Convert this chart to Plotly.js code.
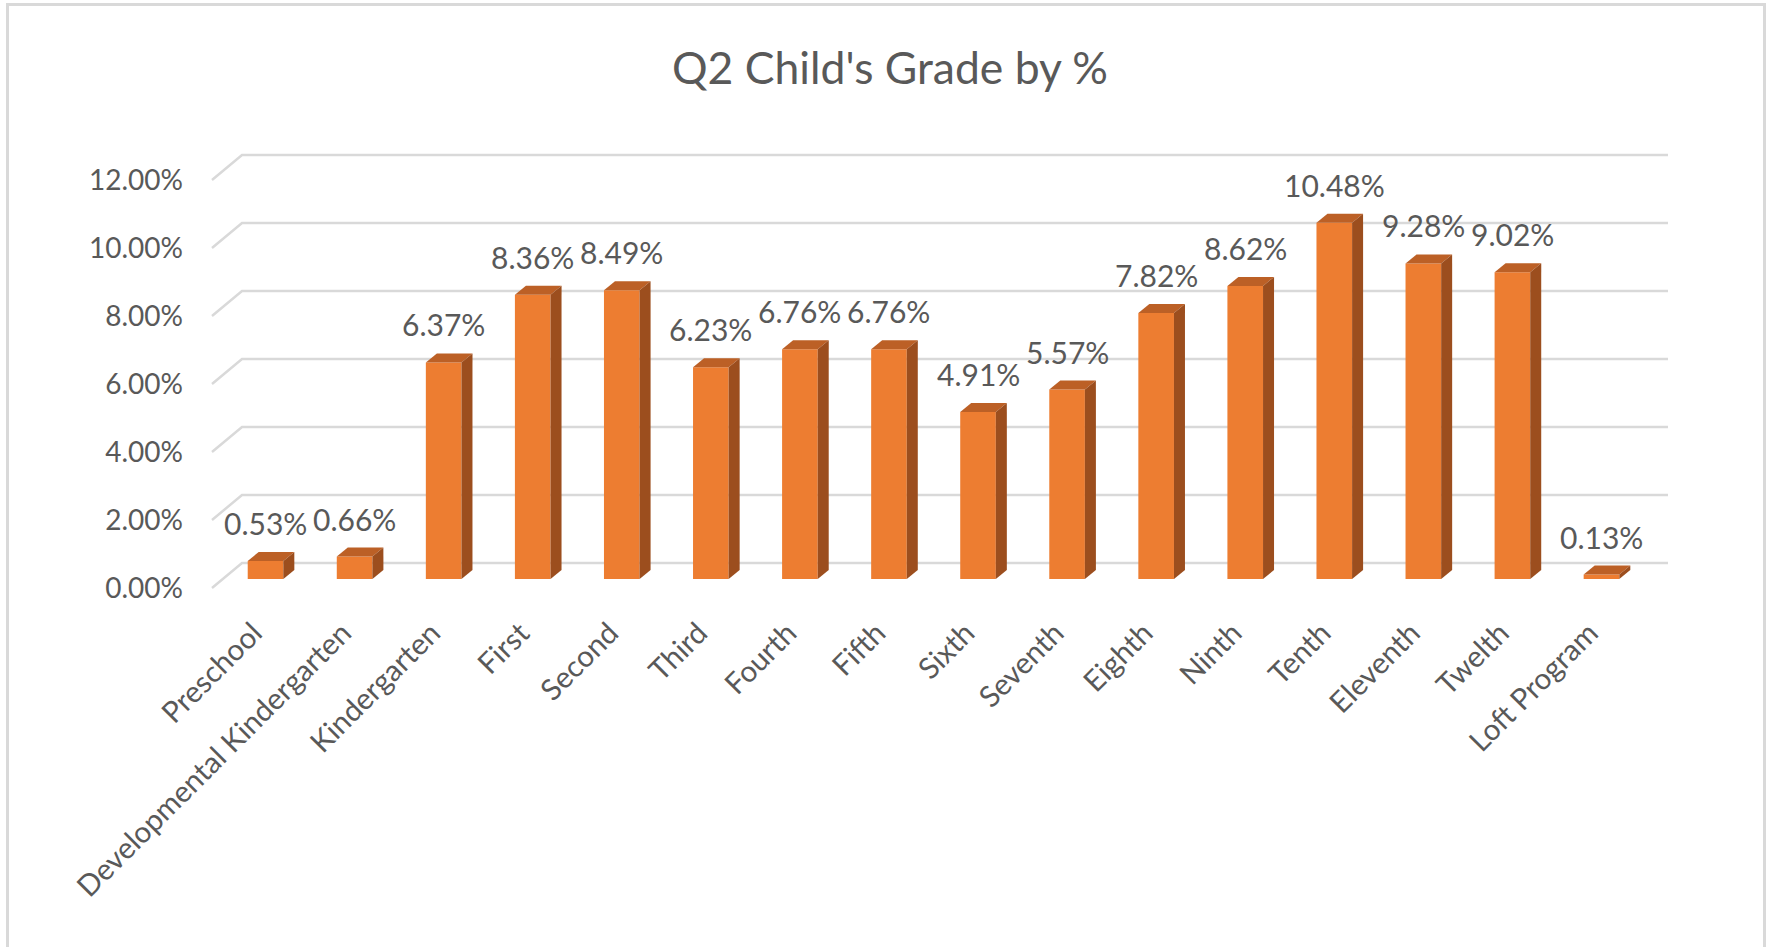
<!DOCTYPE html>
<html>
<head>
<meta charset="utf-8">
<script src="https://cdn.plot.ly/plotly-3.0.1.min.js"></script>
<style>
  html, body { margin: 0; padding: 0; background: #fff; }
  #wrap { position: relative; width: 1774px; height: 947px; overflow: hidden; }
  #chart { position: absolute; left: 0; top: 0; width: 1774px; height: 947px; }
  #frame { position: absolute; left: 6px; top: 3px; width: 1760px; height: 960px;
           border: 3px solid #D9D9D9; box-sizing: border-box; pointer-events: none; }
</style>
</head>
<body>
<div id="wrap">
  <div id="chart"></div>
  <div id="frame"></div>
</div>
<script>
// ---- data ----
const grades = ["Preschool", "Developmental Kindergarten", "Kindergarten", "First", "Second",
  "Third", "Fourth", "Fifth", "Sixth", "Seventh", "Eighth", "Ninth", "Tenth", "Eleventh",
  "Twelth", "Loft Program"];
const percents = [0.53, 0.66, 6.37, 8.36, 8.49, 6.23, 6.76, 6.76, 4.91, 5.57, 7.82, 8.62,
  10.48, 9.28, 9.02, 0.13];
const yTicks = [0, 2, 4, 6, 8, 10, 12];
const chartTitle = "Q2 Child's Grade by %";

// ---- layout constants (pixels) ----
const W = 1774, H = 947;
const mL = 221, mR = 128, mT = 171, mB = 368;
const plotW = W - mL - mR, plotH = H - mT - mB;
const yMax = 12;
const pxPerUnit = plotH / yMax;
const bargap = 0.6;
const hw = (plotW / grades.length) * (1 - bargap) / 2;
const dx = 11, dy = 9;          // bar depth
const FONT = "Lato, 'Open Sans', sans-serif";
const TXT = "#595959";

const shapes = [];
// back-wall gridlines with floor diagonals (paper refs so they are not clipped)
yTicks.forEach(v => {
  shapes.push({
    type: "path", layer: "below",
    xref: "paper", xsizemode: "pixel", xanchor: 0,
    yref: "paper", ysizemode: "pixel", yanchor: v / yMax,
    path: `M -9,-9 L 21,16 L ${plotW + 22},16`,
    line: { color: "#D9D9D9", width: 2.5 }
  });
});
// 3D top and side faces of each bar
percents.forEach((v, i) => {
  shapes.push({
    type: "path", layer: "above",
    xref: "x", xsizemode: "pixel", xanchor: i,
    yref: "y", ysizemode: "pixel", yanchor: v,
    path: `M ${-hw},0 L ${-hw + dx},${dy} L ${hw + dx},${dy} L ${hw},0 Z`,
    fillcolor: "#BC6026", line: { width: 0 }
  });
  const hp = v * pxPerUnit;
  shapes.push({
    type: "path", layer: "above",
    xref: "x", xsizemode: "pixel", xanchor: i,
    yref: "y", ysizemode: "pixel", yanchor: 0,
    path: `M ${hw},${hp} L ${hw + dx},${hp + dy} L ${hw + dx},${dy} L ${hw},0 Z`,
    fillcolor: "#9C4E1E", line: { width: 0 }
  });
});

const annotations = percents.map((v, i) => ({
  x: i, y: v, xref: "x", yref: "y",
  text: v.toFixed(2) + "%", showarrow: false,
  yanchor: "bottom", yshift: 18,
  font: { family: FONT, size: 30, color: TXT }
}));

const trace = {
  type: "bar",
  x: grades.map((g, i) => i),
  y: percents,
  marker: { color: "#ED7D31", line: { width: 0 } },
  hoverinfo: "skip"
};

const layout = {
  width: W, height: H,
  margin: { l: mL, r: mR, t: mT, b: mB, pad: 0 },
  paper_bgcolor: "#ffffff",
  plot_bgcolor: "rgba(0,0,0,0)",
  showlegend: false,
  bargap: bargap,
  title: {
    text: chartTitle,
    font: { family: FONT, size: 44.5, color: TXT },
    x: 890 / W, xanchor: "center", xref: "container",
    y: 1 - 68 / H, yanchor: "middle", yref: "container"
  },
  xaxis: {
    type: "linear",
    range: [-0.5, grades.length - 0.5],
    tickmode: "array",
    tickvals: grades.map((g, i) => i),
    ticktext: grades,
    tickangle: -45,
    ticks: "", showgrid: false, zeroline: false, showline: false,
    ticklabelstandoff: 30,
    ticklabelshift: -12,
    tickfont: { family: FONT, size: 29.5, color: TXT },
    fixedrange: true
  },
  yaxis: {
    range: [0, yMax],
    tickmode: "array",
    tickvals: yTicks,
    ticktext: yTicks.map(v => v.toFixed(2) + "%"),
    ticks: "", showgrid: false, zeroline: false, showline: false,
    ticklabelstandoff: 37,
    ticklabelshift: 9,
    tickfont: { family: FONT, size: 28, color: TXT },
    fixedrange: true
  },
  shapes: shapes,
  annotations: annotations
};

Plotly.newPlot("chart", [trace], layout, { staticPlot: true, displayModeBar: false });
</script>
</body>
</html>
